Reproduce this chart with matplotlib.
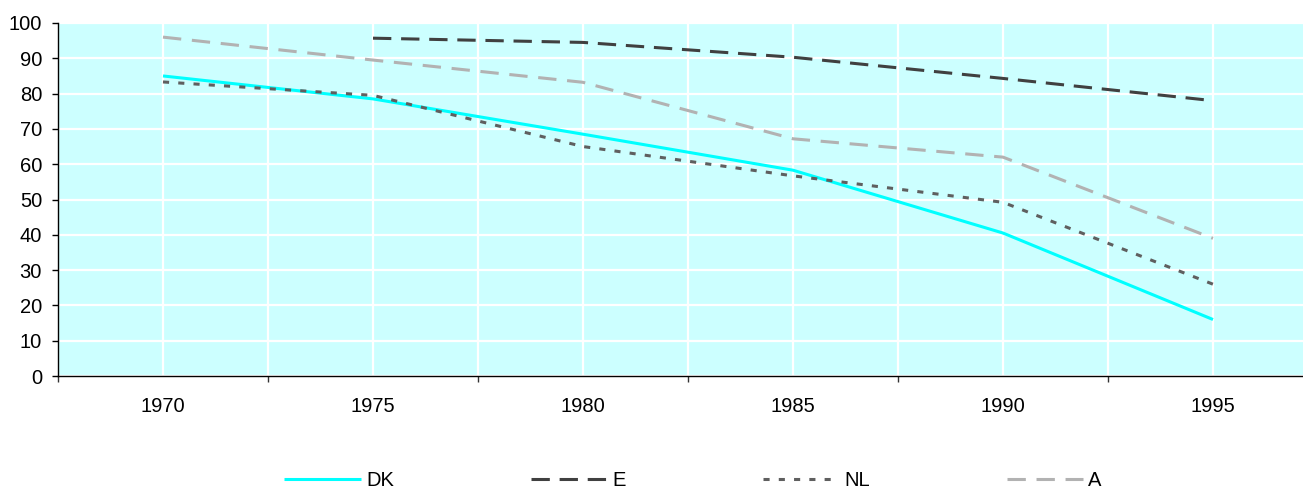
import numpy as np
import matplotlib
matplotlib.use("Agg")
import matplotlib.pyplot as plt

plt.rcParams['font.family'] = ['Liberation Sans', 'DejaVu Sans']

years = ['1970', '1975', '1980', '1985', '1990', '1995']
dk = [85.0, 78.5, 68.5, 58.3, 40.5, 16.0]
e = [np.nan, 95.7, 94.5, 90.3, 84.3, 78.0]
nl = [83.3, 79.5, 65.0, 56.7, 49.2, 26.0]
a = [96.0, 89.5, 83.2, 67.2, 62.0, 39.0]

W, H = 1303, 491
fs = 14.5
fig = plt.figure(figsize=(W / 100, H / 100), dpi=100)
ax = fig.add_axes([58 / W, 1 - 376 / H, (1318 - 58) / W, (376 - 23) / H])
ax.set_facecolor('#CCFFFF')

x = np.arange(len(years)) + 0.5
lw = 2.2
ax.plot(x, dk, color='#00FFFF', lw=lw, label='DK', solid_capstyle='butt')
ax.plot(x, e, color='#404040', lw=lw, dashes=(6, 3.2), label='E')
ax.plot(x, nl, color='#5F5F5F', lw=lw, dashes=(2, 3), label='NL')
ax.plot(x, a, color='#B2B2B2', lw=lw, dashes=(6, 3.5), label='A')

ax.set_xlim(0, len(years))
ax.set_ylim(0, 100)
ax.set_yticks(np.arange(0, 101, 10))

# boundary ticks carry the marks; centre ticks carry the labels
ax.set_xticks(np.arange(0, len(years) + 1))
ax.set_xticklabels([])
ax.set_xticks(x, minor=True)
ax.set_xticklabels(years, minor=True)
ax.tick_params(axis='x', which='major', length=4.5, width=1, color='#333333', direction='out')
ax.tick_params(axis='x', which='minor', length=0, pad=15, labelsize=fs)
ax.tick_params(axis='y', length=4.5, width=1, direction='out', pad=7, labelsize=fs)

ax.grid(True, axis='x', which='both', color='white', lw=1.6)
ax.grid(True, axis='y', which='major', color='white', lw=1.6)
ax.set_axisbelow(True)

for side in ('top', 'right'):
    ax.spines[side].set_visible(False)
for side in ('left', 'bottom'):
    ax.spines[side].set_color('black')
    ax.spines[side].set_linewidth(1)

fig.legend(loc='center', bbox_to_anchor=(693 / W, 1 - 481 / H), ncol=4,
           frameon=False, fontsize=fs, handlelength=3.8, handletextpad=0.25,
           columnspacing=6.8)

fig.savefig('out.png', dpi=100)
